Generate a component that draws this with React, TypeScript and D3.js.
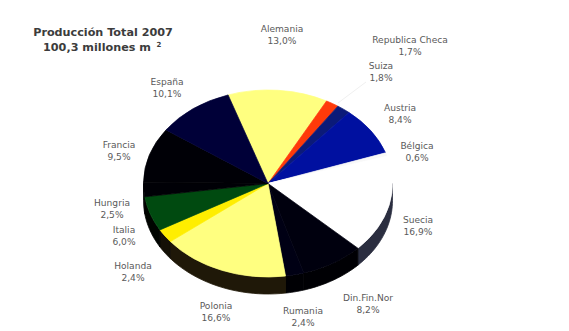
import React from "react";
import * as d3 from "d3";

const countries = ["Alemania", "Republica Checa", "Suiza", "Austria", "Bélgica", "Suecia", "Din.Fin.Nor", "Rumania", "Polonia", "Holanda", "Italia", "Hungria", "Francia", "España"];
const shares = [13.0, 1.7, 1.8, 8.4, 0.6, 16.9, 8.2, 2.4, 16.6, 2.4, 6.0, 2.5, 9.5, 10.1];
const topColors = ["#ffff80", "#ff3a0a", "#0b1a78", "#0010a0", "#f8f8f8", "#ffffff", "#00000e", "#000014", "#ffff80", "#ffee00", "#004a10", "#000006", "#000006", "#000038"];
const wallColors = ["#8a8a40", "#802000", "#060d3c", "#000850", "#8a8a8a", "#2b2e40", "#000004", "#000004", "#1f1808", "#141006", "#000400", "#000002", "#000002", "#000020"];
const labelX = [282, 410, 381, 400, 417, 418, 368, 303, 216, 133, 124, 112, 119, 167];
const labelY = [32, 43, 69, 111, 149, 223, 301, 314, 309, 269, 233, 206, 148, 85];

const WIDTH = 569;
const HEIGHT = 331;
const CX = 268;
const CY = 183.5;
const RX = 124.5;
const RY = 93.5;
const DEPTH = 17;
const START = (-18.7 * Math.PI) / 180;

const pie = d3.pie<number>().sort(null).startAngle(START).endAngle(START + 2 * Math.PI);
const slices = pie(shares);
const arc = d3.arc<d3.PieArcDatum<number>>().innerRadius(0).outerRadius(RX);

// Side wall of one slice: the visible lower rim, swept down by the pie's depth.
function wallPath(a0: number, a1: number): string | null {
  const from = Math.max(a0, Math.PI / 2);
  const to = Math.min(a1, (3 * Math.PI) / 2);
  if (to <= from) return null;
  const angles = d3.range(0, 25).map((i) => from + ((to - from) * i) / 24);
  const rim = angles.map((a) => [RX * Math.sin(a), -RY * Math.cos(a)] as [number, number]);
  const lower = rim.map(([x, y]) => [x, y + DEPTH] as [number, number]).reverse();
  return d3.line()([...rim, ...lower]) + "Z";
}

const labelStyle: React.CSSProperties = { fontFamily: "DejaVu Sans", fontSize: 9.1, fill: "#5a5a5a" };
const titleStyle: React.CSSProperties = { fontFamily: "DejaVu Sans", fontSize: 11.2, fontWeight: 700, fill: "#3c3c3c" };

export default function App() {
  return (
    <svg width={WIDTH} height={HEIGHT} style={{ position: "absolute", left: 0, top: 0, background: "#fff" }}>
      <text x={103} y={36} textAnchor="middle" style={titleStyle}>Producción Total 2007</text>
      <text x={97} y={51} textAnchor="middle" style={titleStyle}>100,3 millones m</text>
      <text x={159} y={47} textAnchor="middle" style={{ ...titleStyle, fontSize: 7 }}>2</text>

      <line x1={338} y1={103} x2={366} y2={82} stroke="#f0f0f0" strokeWidth={1} />

      <g transform={`translate(${CX},${CY})`}>
        {slices.map((s, i) => {
          const d = wallPath(s.startAngle, s.endAngle);
          return d ? <path key={i} d={d} fill={wallColors[i]} stroke={wallColors[i]} strokeWidth={0.8} /> : null;
        })}
        <g transform={`scale(1,${RY / RX})`}>
          {slices.map((s, i) => (
            <path key={i} d={arc(s) ?? ""} fill={topColors[i]} stroke={topColors[i]} strokeWidth={0.8} />
          ))}
        </g>
      </g>

      {countries.map((name, i) => (
        <g key={name} textAnchor="middle" style={labelStyle}>
          <text x={labelX[i]} y={labelY[i]}>{name}</text>
          <text x={labelX[i]} y={labelY[i] + 11.5}>{shares[i].toFixed(1).replace(".", ",")}%</text>
        </g>
      ))}
    </svg>
  );
}
